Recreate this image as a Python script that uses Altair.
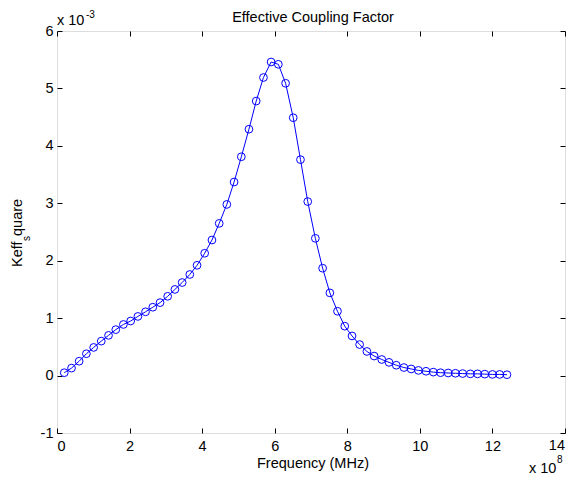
import altair as alt
import pandas as pd

# Frequency in units of 1e8 (MHz axis label as in the original)
freq = [0.20, 0.40, 0.61, 0.81, 1.01, 1.22, 1.42, 1.62, 1.83, 2.03,
        2.23, 2.44, 2.64, 2.84, 3.05, 3.25, 3.45, 3.66, 3.86, 4.07,
        4.27, 4.47, 4.68, 4.88, 5.08, 5.29, 5.49, 5.69, 5.90, 6.10,
        6.30, 6.51, 6.71, 6.91, 7.12, 7.32, 7.52, 7.73, 7.93, 8.13,
        8.34, 8.54, 8.74, 8.95, 9.15, 9.35, 9.56, 9.76, 9.96, 10.17,
        10.37, 10.57, 10.78, 10.98, 11.18, 11.39, 11.59, 11.79, 12.00, 12.20,
        12.40]

# Keff^2 in units of 1e-3
keff = [0.05, 0.13, 0.25, 0.38, 0.49, 0.60, 0.70, 0.80, 0.89, 0.95,
        1.03, 1.11, 1.19, 1.27, 1.38, 1.50, 1.62, 1.76, 1.92, 2.13,
        2.36, 2.65, 2.98, 3.37, 3.81, 4.29, 4.78, 5.19, 5.46, 5.42,
        5.09, 4.49, 3.76, 3.03, 2.39, 1.87, 1.44, 1.12, 0.86, 0.69,
        0.54, 0.42, 0.34, 0.28, 0.23, 0.18, 0.14, 0.115, 0.09, 0.075,
        0.06, 0.05, 0.045, 0.04, 0.035, 0.03, 0.03, 0.025, 0.02, 0.02,
        0.015]

x_ticks = [0, 2, 4, 6, 8, 10, 12, 14]
y_ticks = [-1, 0, 1, 2, 3, 4, 5, 6]

TITLE = "Effective Coupling Factor"
XTITLE = "Frequency (MHz)"
YTITLE_PARTS = ["Keff", "s", "quare"]

FONT = "Liberation Sans"
FS = 14.5
FS_SUB = 10
BLUE = "#0000ff"
W, H = 508, 402

df = pd.DataFrame({"f": freq, "k": keff})

xscale = alt.Scale(domain=[0, 14], nice=False, zero=False)
yscale = alt.Scale(domain=[-1, 6], nice=False, zero=False)

common_axis = dict(domain=False, grid=False, tickSize=5, offset=-5,
                   tickColor="black", tickWidth=1, labelColor="black",
                   labelFont=FONT, labelFontSize=FS, title=None)

# the last x label ("14") sits at the page edge; it is drawn as a separate
# right-aligned text so that it stays fully visible
line = alt.Chart(df).mark_line(color=BLUE, strokeWidth=1).encode(
    x=alt.X("f:Q", scale=xscale,
            axis=alt.Axis(orient="bottom", values=x_ticks, labelPadding=17,
                          labelBaseline="alphabetic",
                          labelExpr="datum.value == 14 ? '' : '' + datum.value",
                          **common_axis)),
    y=alt.Y("k:Q", scale=yscale,
            axis=alt.Axis(orient="left", values=y_ticks, labelPadding=4,
                          labelExpr="'' + datum.value", **common_axis)),
)

points = alt.Chart(df).mark_point(shape="circle", filled=False, color=BLUE,
                                  size=60, strokeWidth=1, opacity=1).encode(
    x=alt.X("f:Q", scale=xscale,
            axis=alt.Axis(orient="top", values=x_ticks, labels=False, **common_axis)),
    y=alt.Y("k:Q", scale=yscale,
            axis=alt.Axis(orient="right", values=y_ticks, labels=False, **common_axis)),
)


def label(text, x, y, size=FS, angle=0, align="left", baseline="alphabetic"):
    return alt.Chart(pd.DataFrame({"t": [text]})).mark_text(
        align=align, baseline=baseline, fontSize=size, angle=angle,
        font=FONT, color="black"
    ).encode(x=alt.value(x), y=alt.value(y), text="t:N")


texts = [
    label(TITLE, 256, -9, align="center"),
    label(XTITLE, 256, 437, align="center"),
    label(str(x_ticks[-1]), W, H + 17, align="right"),
    label("x 10", 0, -6),
    label("-3", 29, -13, size=FS_SUB),
    label("x 10", 472, 442),
    label("8", 500, 432, size=FS_SUB),
    label(YTITLE_PARTS[0], -35, 236, angle=270),
    label(YTITLE_PARTS[1], -27, 210, size=FS_SUB, angle=270),
    label(YTITLE_PARTS[2], -35, 205, angle=270),
]

chart = alt.layer(line, points, *texts).resolve_axis(
    x="independent", y="independent"
).properties(
    width=W, height=H,
    autosize=alt.AutoSizeParams(type="none"),
    padding={"left": 49, "top": 23, "right": 1, "bottom": 44},
).configure_view(stroke="black", strokeWidth=1).configure(background="white")

chart.save("out.html", embed_options={"renderer": "svg", "actions": False})
